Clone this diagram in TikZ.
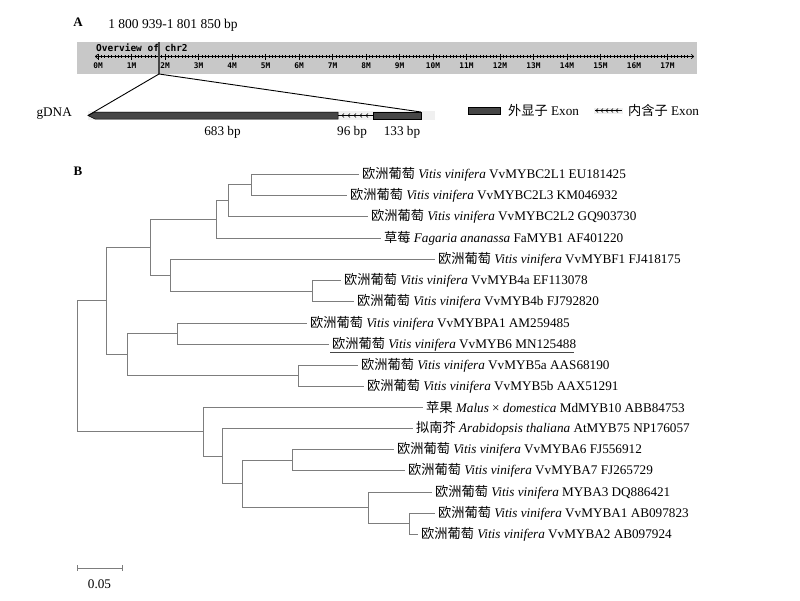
\documentclass[tikz,border=0pt]{standalone}
\usepackage{fontspec}
\setmainfont{Liberation Serif}
\newfontfamily\cjk{Noto Sans CJK SC}
\newfontfamily\pixfont{DejaVu Sans Mono}
\usetikzlibrary{arrows.meta}
\newcommand\mylab[3]{{\cjk #1} \textit{#2} #3}
\definecolor{treegray}{RGB}{125,125,125}
\definecolor{bargray}{RGB}{200,200,200}
\definecolor{exon}{RGB}{70,70,70}
\begin{document}
\begin{tikzpicture}[x=1pt,y=-1pt,
  tree/.style={draw=treegray, line width=0.9pt},
  leaf/.style={anchor=west, inner sep=0pt, font=\fontsize{13.2}{15}\selectfont},
  txt/.style={inner sep=0pt, font=\fontsize{13.2}{15}\selectfont},
  pix/.style={inner sep=0pt, font=\pixfont\bfseries\fontsize{7.8}{9}\selectfont},
  exonbox/.style={fill=exon, draw=black, line width=0.5pt},
  panel/.style={inner sep=0pt, font=\bfseries\fontsize{13}{15}\selectfont}]
\fill[white] (0,0) rectangle (800,600);
\useasboundingbox (0,0) rectangle (800,600);

% ---------- Panel A ----------
\node[panel] (A) at (78,22) {A};
\node[txt, font=\fontsize{13.5}{15}\selectfont] (range) at (173,25) {1 800 939-1 801 850 bp};
\node[fill=bargray, minimum width=620pt, minimum height=32pt, inner sep=0pt, anchor=north west] (bar) at (77,42) {};
\node[pix, font=\pixfont\bfseries\fontsize{9.5}{11}\selectfont, anchor=west] (ov) at (96,48) {Overview of chr2};
\coordinate (axL) at (95,56.5);
\coordinate (axR) at (694,56.5);
\draw[line width=0.6pt, {To[length=3pt,width=5pt]}-{To[length=3pt,width=5pt]}] (axL) -- (axR);
\foreach \i in {0,...,176} { \draw[line width=0.45pt] (98+\i*3.35,55) -- ++(0,3); }
\foreach \i in {0,...,17} {
  \draw[line width=0.6pt] (98+\i*33.5,53.5) -- ++(0,6);
  \node[pix] (t\i) at (98+\i*33.5,65.5) {\i M};
}
\draw[line width=1.4pt, draw=exon] (159,42) -- (159,74);
\coordinate (mk) at (159,74);

\node[txt, anchor=east] (gdna) at (72,114) {gDNA};
\fill[gray!12] (88,111) rectangle (435,120);
\draw[exonbox] (88,115.5) -- (95,112) -- (338,112) -- (338,119) -- (95,119) -- cycle;
\draw[line width=0.5pt] (338,115.5) -- (373,115.5);
\foreach \x in {342,348,...,368} { \draw[line width=0.45pt] (\x+2,113.5) -- (\x,115.5) -- (\x+2,117.5); }
\draw[exonbox] (373,112) rectangle (421,119);
\coordinate (gL) at (88,115.5);
\coordinate (gR) at (421,112);
\draw[line width=0.9pt] (mk) -- (gL);
\draw[line width=0.9pt] (mk) -- (gR);
\node[txt] (b683) at (222.5,132) {683 bp};
\node[txt] (b96) at (352,132) {96 bp};
\node[txt] (b133) at (402,132) {133 bp};

% legend
\node[exonbox, minimum width=32pt, minimum height=7pt, inner sep=0pt] (lgE) at (484,110.5) {};
\node[txt, anchor=west] (lgEt) at (508,110) {{\cjk 外显子} Exon};
\fill[gray!12] (594,107.5) rectangle (623,113.5);
\draw[line width=0.5pt] (595,110.5) -- (622,110.5);
\foreach \x in {596,601,...,616} { \draw[line width=0.45pt] (\x+2,108.5) -- (\x,110.5) -- (\x+2,112.5); }
\node[txt, anchor=west] (lgIt) at (628,110) {{\cjk 内含子} Exon};

% ---------- Panel B ----------
\node[panel] (B) at (78,171) {B};

\node[leaf] (L1) at (362,174) {\mylab{欧洲葡萄}{Vitis vinifera}{VvMYBC2L1 EU181425}};
\node[leaf] (L2) at (350,195.5) {\mylab{欧洲葡萄}{Vitis vinifera}{VvMYBC2L3 KM046932}};
\node[leaf] (L3) at (371,216.5) {\mylab{欧洲葡萄}{Vitis vinifera}{VvMYBC2L2 GQ903730}};
\node[leaf] (L4) at (384,238) {\mylab{草莓}{Fagaria ananassa}{FaMYB1 AF401220}};
\node[leaf] (L5) at (438,259.5) {\mylab{欧洲葡萄}{Vitis vinifera}{VvMYBF1 FJ418175}};
\node[leaf] (L6) at (344,280.5) {\mylab{欧洲葡萄}{Vitis vinifera}{VvMYB4a EF113078}};
\node[leaf] (L7) at (357,301.5) {\mylab{欧洲葡萄}{Vitis vinifera}{VvMYB4b FJ792820}};
\node[leaf] (L8) at (310,323) {\mylab{欧洲葡萄}{Vitis vinifera}{VvMYBPA1 AM259485}};
\node[leaf] (L9) at (332,344) {\mylab{欧洲葡萄}{Vitis vinifera}{VvMYB6 MN125488}};
\node[leaf] (L10) at (361,365) {\mylab{欧洲葡萄}{Vitis vinifera}{VvMYB5a AAS68190}};
\node[leaf] (L11) at (367,386) {\mylab{欧洲葡萄}{Vitis vinifera}{VvMYB5b AAX51291}};
\node[leaf] (L12) at (426,407.5) {{\cjk 苹果} \textit{Malus} × \textit{domestica} MdMYB10 ABB84753};
\node[leaf] (L13) at (416,428.5) {\mylab{拟南芥}{Arabidopsis thaliana}{AtMYB75 NP176057}};
\node[leaf] (L14) at (397,449.5) {\mylab{欧洲葡萄}{Vitis vinifera}{VvMYBA6 FJ556912}};
\node[leaf] (L15) at (408,470.5) {\mylab{欧洲葡萄}{Vitis vinifera}{VvMYBA7 FJ265729}};
\node[leaf] (L16) at (435,492) {\mylab{欧洲葡萄}{Vitis vinifera}{MYBA3 DQ886421}};
\node[leaf] (L17) at (438,513) {\mylab{欧洲葡萄}{Vitis vinifera}{VvMYBA1 AB097823}};
\node[leaf] (L18) at (421,534) {\mylab{欧洲葡萄}{Vitis vinifera}{VvMYBA2 AB097924}};
\draw[line width=0.8pt, draw=exon] ([xshift=-2pt,yshift=-1.5pt]L9.south west) -- ([xshift=-2pt,yshift=-1.5pt]L9.south east);

\coordinate (n12) at (251,184.75);
\coordinate (n123) at (228,200.6);
\coordinate (n1234) at (216,219.3);
\coordinate (n67) at (312,291);
\coordinate (n567) at (170,275.25);
\coordinate (nA) at (150,247.3);
\coordinate (n89) at (177,333.5);
\coordinate (n1011) at (298,375.5);
\coordinate (nB) at (127,354.5);
\coordinate (nC) at (106,300.9);
\coordinate (n1415) at (292,460);
\coordinate (n1718) at (409,523.5);
\coordinate (n1618) at (368,507.75);
\coordinate (n1418) at (242,483.9);
\coordinate (n1318) at (222,456.2);
\coordinate (n1218) at (203,431.9);
\coordinate (root) at (77,366.4);

\begin{scope}[tree]
\draw (root) |- (nC);
\draw (root) |- (n1218);
\draw (nC) |- (nA);
\draw (nC) |- (nB);
\draw (nA) |- (n1234);
\draw (nA) |- (n567);
\draw (n1234) |- (n123);
\draw[shorten >=3pt] (n1234) |- (L4.west);
\draw (n123) |- (n12);
\draw[shorten >=3pt] (n123) |- (L3.west);
\draw[shorten >=3pt] (n12) |- (L1.west);
\draw[shorten >=3pt] (n12) |- (L2.west);
\draw[shorten >=3pt] (n567) |- (L5.west);
\draw (n567) |- (n67);
\draw[shorten >=3pt] (n67) |- (L6.west);
\draw[shorten >=3pt] (n67) |- (L7.west);
\draw (nB) |- (n89);
\draw (nB) |- (n1011);
\draw[shorten >=3pt] (n89) |- (L8.west);
\draw[shorten >=3pt] (n89) |- (L9.west);
\draw[shorten >=3pt] (n1011) |- (L10.west);
\draw[shorten >=3pt] (n1011) |- (L11.west);
\draw[shorten >=3pt] (n1218) |- (L12.west);
\draw (n1218) |- (n1318);
\draw[shorten >=3pt] (n1318) |- (L13.west);
\draw (n1318) |- (n1418);
\draw (n1418) |- (n1415);
\draw (n1418) |- (n1618);
\draw[shorten >=3pt] (n1415) |- (L14.west);
\draw[shorten >=3pt] (n1415) |- (L15.west);
\draw[shorten >=3pt] (n1618) |- (L16.west);
\draw (n1618) |- (n1718);
\draw[shorten >=3pt] (n1718) |- (L17.west);
\draw[shorten >=3pt] (n1718) |- (L18.west);
\end{scope}

% scale bar
\coordinate (sbL) at (77,568);
\coordinate (sbR) at (122,568);
\draw[tree] (sbL) -- (sbR);
\draw[tree] (77,565) -- (77,571);
\draw[tree] (122,565) -- (122,571);
\node[txt] (sb) at (99.5,584) {0.05};
\end{tikzpicture}
\end{document}
